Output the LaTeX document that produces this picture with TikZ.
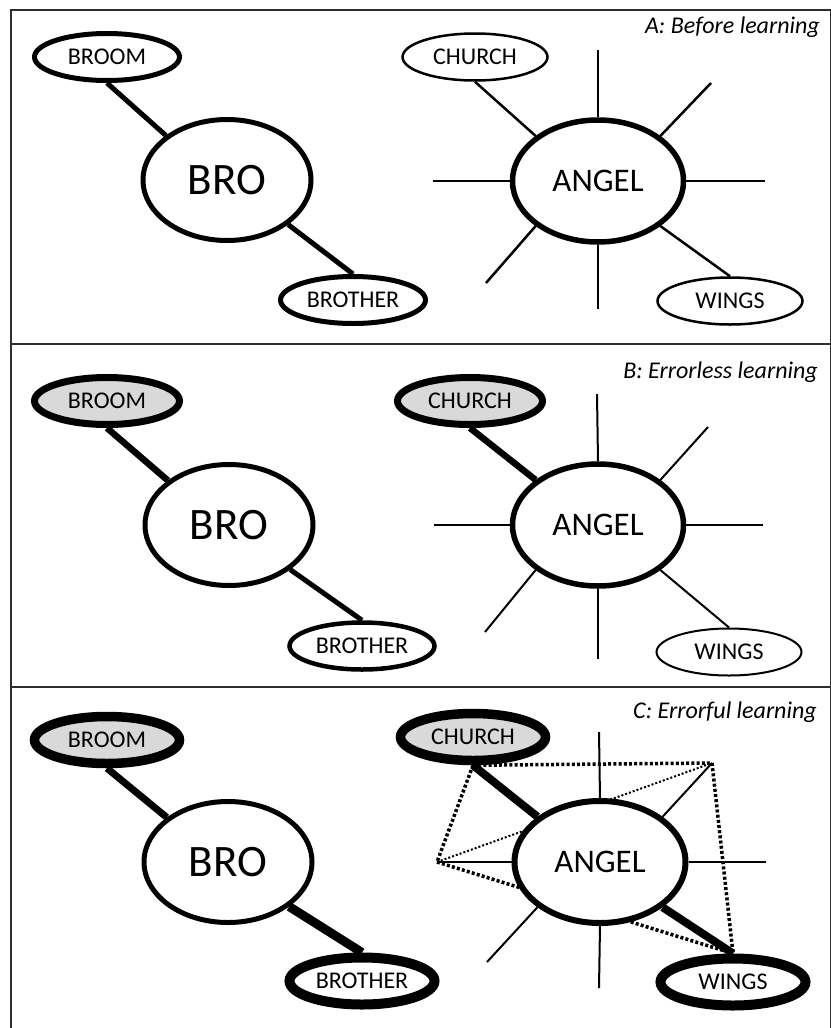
\documentclass[tikz,border=0pt]{standalone}
\usepackage{fontspec}
\setmainfont{Carlito}
\usetikzlibrary{shapes.geometric}
\pgfdeclarelayer{bg}
\pgfdeclarelayer{paper}
\pgfsetlayers{paper,bg,main}
\definecolor{cuegray}{HTML}{D9D9D9}
\definecolor{framegray}{HTML}{2E2E2E}
\begin{document}
\begin{tikzpicture}[x=1pt,y=-1pt,
  word/.style={ellipse, draw, fill=white, inner sep=0pt, minimum width=145pt, minimum height=47pt, font=\fontsize{24}{28}\selectfont},
  hubbro/.style={ellipse, draw, fill=white, inner sep=0pt, minimum width=168pt, minimum height=121pt, line width=5pt, font=\fontsize{45}{50}\selectfont},
  hubangel/.style={ellipse, draw, fill=white, inner sep=0pt, minimum width=171pt, minimum height=122pt, line width=5.5pt, font=\fontsize{33}{38}\selectfont},
  cue/.style={fill=cuegray},
  wthin/.style={line width=2.5pt},
  wmid/.style={line width=5pt},
  wbold/.style={line width=7pt},
  wheavy/.style={line width=9.5pt},
  spoke/.style={line width=2.5pt},
  dotthick/.style={line width=3.5pt, dash pattern=on 3pt off 2.2pt},
  dotthin/.style={line width=2pt, dash pattern=on 2pt off 2pt},
  title/.style={anchor=base east, inner sep=0pt, font=\fontsize{24}{28}\selectfont\itshape},
]
\useasboundingbox (0,0) rectangle (830,1028);
\begin{pgfonlayer}{paper}
\fill[white] (0,0) rectangle (830,1028);
\end{pgfonlayer}

% frame
\draw[line width=2pt, framegray] (10.5,10) rectangle (831,1031);
\draw[line width=2pt, framegray] (10.5,344) -- (831,344);
\draw[line width=2pt, framegray] (10.5,687) -- (831,687);

% ---------------- Panel A ----------------
\node[title] (tA) at (820,33) {A: Before learning};
\node[word, wmid] (broomA) at (107,57) {BROOM};
\node[hubbro] (broA) at (227,180) {BRO};
\node[word, wmid] (brotherA) at (353,300) {BROTHER};
\node[word, wthin] (churchA) at (475,57) {CHURCH};
\node[hubangel] (angelA) at (598,181) {ANGEL};
\node[word, wthin] (wingsA) at (730,301) {WINGS};
\coordinate (aN) at (598,50);
\coordinate (aNE) at (711,83);
\coordinate (aE) at (765,181);
\coordinate (aS) at (598,309);
\coordinate (aSW) at (486,283);
\coordinate (aW) at (433,181);
\begin{pgfonlayer}{bg}
\draw[wmid] (broomA.south) -- (broA.north west);
\draw[wmid] (broA.south east) -- (brotherA.north);
\draw[wthin] (churchA.south) -- (angelA.north west);
\draw[wthin] (angelA.south east) -- (wingsA.north);
\draw[spoke] (angelA.north) -- (aN);
\draw[spoke] (angelA.north east) -- (aNE);
\draw[spoke] (angelA.east) -- (aE);
\draw[spoke] (angelA.south) -- (aS);
\draw[spoke] (angelA.south west) -- (aSW);
\draw[spoke] (angelA.west) -- (aW);
\end{pgfonlayer}

% ---------------- Panel B ----------------
\node[title] (tB) at (818,378) {B: Errorless learning};
\node[word, cue, wbold] (broomB) at (107,401) {BROOM};
\node[hubbro] (broB) at (229,525) {BRO};
\node[word, line width=4.5pt] (brotherB) at (362,646) {BROTHER};
\node[word, cue, wbold] (churchB) at (470,401) {CHURCH};
\node[hubangel] (angelB) at (598,525) {ANGEL};
\node[word, line width=2pt] (wingsB) at (729,652) {WINGS};
\coordinate (bN) at (597,394);
\coordinate (bNE) at (708,427);
\coordinate (bE) at (763,525);
\coordinate (bS) at (598,659);
\coordinate (bSW) at (485,632);
\coordinate (bW) at (434,525);
\begin{pgfonlayer}{bg}
\draw[line width=6.5pt] (broomB.south) -- (broB.north west);
\draw[wmid] (broB.south east) -- (brotherB.north);
\draw[line width=6.5pt] (churchB.south) -- (angelB.north west);
\draw[line width=2pt] (angelB.south east) -- (wingsB.north);
\draw[line width=2pt] (angelB.north) -- (bN);
\draw[line width=2pt] (angelB.north east) -- (bNE);
\draw[line width=2pt] (angelB.east) -- (bE);
\draw[line width=2pt] (angelB.south) -- (bS);
\draw[line width=2pt] (angelB.south west) -- (bSW);
\draw[line width=2pt] (angelB.west) -- (bW);
\end{pgfonlayer}

% ---------------- Panel C ----------------
\node[title] (tC) at (817,718) {C: Errorful learning};
\node[word, cue, wheavy] (broomC) at (107,740) {BROOM};
\node[hubbro] (broC) at (228,862) {BRO};
\node[word, line width=10pt] (brotherC) at (362,981) {BROTHER};
\node[word, cue, wheavy] (churchC) at (473,737) {CHURCH};
\node[hubangel, line width=6pt] (angelC) at (600,862) {ANGEL};
\node[word, line width=10pt] (wingsC) at (733,982) {WINGS};
\coordinate (cN) at (599,732);
\coordinate (cNE) at (712,763);
\coordinate (cE) at (766,862);
\coordinate (cS) at (599,988);
\coordinate (cSW) at (487,962);
\coordinate (cW) at (437,862);
\begin{pgfonlayer}{bg}
\draw[dotthick] (churchC.south) -- (cNE);
\draw[dotthick] (churchC.south) -- (cW);
\draw[dotthin] (cW) -- (cNE);
\draw[dotthick] (cW) -- (wingsC.north);
\draw[dotthick] (cNE) -- (wingsC.north);
\draw[line width=7pt] (broomC.south) -- (broC.north west);
\draw[line width=9pt] (broC.south east) -- (brotherC.north);
\draw[line width=8pt] (churchC.south) -- (angelC.north west);
\draw[line width=8pt] (angelC.south east) -- (wingsC.north);
\draw[line width=2pt] (angelC.north) -- (cN);
\draw[line width=2pt] (angelC.north east) -- (cNE);
\draw[line width=2pt] (angelC.east) -- (cE);
\draw[line width=2pt] (angelC.south) -- (cS);
\draw[line width=2pt] (angelC.south west) -- (cSW);
\draw[line width=2pt] (angelC.west) -- (cW);
\end{pgfonlayer}
\end{tikzpicture}
\end{document}
